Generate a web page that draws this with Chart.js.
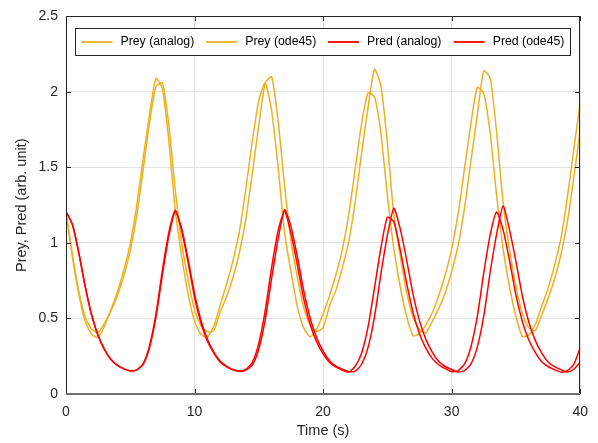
<!DOCTYPE html>
<html>
<head>
<meta charset="utf-8">
<script src="https://cdn.jsdelivr.net/npm/chart.js@4/dist/chart.umd.min.js"></script>
<style>
html,body{margin:0;padding:0;background:#fff;}
#wrap{width:598px;height:443px;}
</style>
</head>
<body>
<div id="wrap"><canvas id="c" width="598" height="443"></canvas></div>
<script>
// ---- data ----
const time = [0,0.5,1,1.5,2,2.5,3,3.5,4,4.5,5,5.5,6,6.5,7,7.5,8,8.5,9,9.5,10,10.5,11,11.5,12,12.5,13,13.5,14,14.5,15,15.5,16,16.5,17,17.5,18,18.5,19,19.5,20,20.5,21,21.5,22,22.5,23,23.5,24,24.5,25,25.5,26,26.5,27,27.5,28,28.5,29,29.5,30,30.5,31,31.5,32,32.5,33,33.5,34,34.5,35,35.5,36,36.5,37,37.5,38,38.5,39,39.5,40];

const preyAnalog = [
  1.20,0.92,0.679,0.509,0.428,0.407,0.469,0.55,0.652,0.784,
  0.951,1.181,1.485,1.798,2.036,2.06,1.778,1.351,1.0,0.756,
  0.56,0.451,0.412,0.42,0.545,0.645,0.775,0.94,1.165,1.465,
  1.78,2.06,2.10,1.81,1.38,1.015,0.77,0.57,0.455,0.413,
  0.44,0.581,0.689,0.835,1.012,1.273,1.597,1.90,2.15,2.039,
  1.66,1.188,0.915,0.674,0.506,0.427,0.406,0.482,0.567,0.671,
  0.811,0.983,1.23,1.544,1.852,2.14,2.09,1.729,1.265,0.955,
  0.712,0.532,0.438,0.42,0.52,0.634,0.76,0.922,1.138,1.432,
  1.75];

const preyOde45 = [
  1.21,0.91,0.66,0.48,0.394,0.376,0.45,0.56,0.676,0.82,
  0.994,1.246,1.556,1.852,2.09,2.02,1.676,1.216,0.912,0.66,
  0.482,0.394,0.376,0.45,0.59,0.73,0.886,1.084,1.364,1.678,
  1.944,2.06,1.872,1.504,1.068,0.81,0.578,0.436,0.379,0.43,
  0.53,0.652,0.79,0.958,1.192,1.492,1.794,1.994,1.966,1.724,
  1.312,0.964,0.71,0.514,0.385,0.40,0.46,0.54,0.652,0.79,
  0.958,1.192,1.492,1.794,2.03,1.99,1.724,1.312,0.964,0.71,
  0.514,0.38,0.39,0.46,0.58,0.70,0.85,1.03,1.30,1.62,
  1.93];

const predAnalog = [
  1.21,1.122,0.933,0.709,0.521,0.386,0.294,0.228,0.189,0.166,
  0.154,0.16,0.196,0.308,0.509,0.791,1.045,1.21,1.094,0.891,
  0.663,0.487,0.362,0.278,0.216,0.183,0.162,0.15,0.158,0.193,
  0.298,0.492,0.768,1.025,1.22,1.108,0.908,0.681,0.501,0.372,
  0.284,0.221,0.185,0.164,0.148,0.152,0.197,0.31,0.513,0.797,
  1.05,1.23,1.093,0.887,0.658,0.484,0.36,0.276,0.215,0.182,
  0.162,0.145,0.155,0.198,0.314,0.518,0.808,1.06,1.245,1.087,
  0.878,0.649,0.477,0.355,0.273,0.212,0.181,0.161,0.145,0.164,
  0.21];

const predOde45 = [
  1.21,1.122,0.933,0.709,0.521,0.386,0.294,0.228,0.189,0.166,
  0.152,0.16,0.20,0.32,0.53,0.82,1.07,1.216,1.08,0.87,
  0.64,0.47,0.35,0.27,0.21,0.18,0.16,0.15,0.163,0.21,
  0.337,0.553,0.84,1.082,1.21,1.063,0.852,0.626,0.46,0.344,
  0.265,0.208,0.178,0.158,0.145,0.184,0.272,0.446,0.704,0.97,
  1.17,1.14,0.954,0.732,0.538,0.398,0.302,0.234,0.192,0.168,
  0.148,0.155,0.198,0.313,0.517,0.803,1.055,1.205,1.088,0.883,
  0.654,0.48,0.357,0.275,0.214,0.182,0.161,0.145,0.155,0.196,
  0.308];

const seriesLabels = ['Prey (analog)','Prey (ode45)','Pred (analog)','Pred (ode45)'];
const xTickValues = [0,10,20,30,40];
const yTickValues = [0,0.5,1,1.5,2,2.5];
const xAxisTitle = 'Time (s)';
const yAxisTitle = 'Prey, Pred (arb. unit)';

// ---- styling ----
const FONT = "'Liberation Sans', Arial, Helvetica, sans-serif";
const PREY_COLOR = '#EDB120';
const PRED_COLOR = '#FF0000';
const AXIS_COLOR = '#262626';

const toXY = arr => time.map((t,i)=>({x:t, y:arr[i]}));

const framePlugin = {
  id:'frameAndLegend',
  afterDraw(chart){
    const ctx = chart.ctx;
    const ca = chart.chartArea;
    const xs = chart.scales.x, ys = chart.scales.y;
    const L = Math.round(ca.left), R = Math.round(ca.right), T = Math.round(ca.top), B = Math.round(ca.bottom);
    ctx.save();
    // inward ticks
    ctx.strokeStyle = AXIS_COLOR;
    ctx.lineWidth = 1;
    ctx.beginPath();
    const TL = 5;
    xTickValues.forEach(v=>{
      const px = Math.round(xs.getPixelForValue(v)) + 0.5;
      ctx.moveTo(px, B); ctx.lineTo(px, B - TL);
      ctx.moveTo(px, T); ctx.lineTo(px, T + TL);
    });
    yTickValues.forEach(v=>{
      const py = Math.round(ys.getPixelForValue(v)) + 0.5;
      ctx.moveTo(L, py); ctx.lineTo(L + TL, py);
      ctx.moveTo(R, py); ctx.lineTo(R - TL, py);
    });
    ctx.stroke();
    // box: left, top, right dark
    ctx.beginPath();
    ctx.moveTo(L+0.5, B); ctx.lineTo(L+0.5, T+0.5); ctx.lineTo(R-0.5, T+0.5); ctx.lineTo(R-0.5, B);
    ctx.stroke();
    // bottom axis line (grey, thicker)
    ctx.strokeStyle = '#6e6e6e';
    ctx.lineWidth = 2;
    ctx.beginPath();
    ctx.moveTo(L, B); ctx.lineTo(R, B);
    ctx.stroke();

    // legend inside plot
    const bx = L + 9, by = T + 12;
    const bw = (R - 10) - bx, bh = 27;
    ctx.fillStyle = '#fff';
    ctx.fillRect(bx, by, bw, bh);
    ctx.strokeStyle = AXIS_COLOR;
    ctx.lineWidth = 1;
    ctx.strokeRect(bx+0.5, by+0.5, bw, bh);
    const starts = [0.013, 0.265, 0.511, 0.765];
    const cy = by + bh/2 + 0.5;
    ctx.font = '12.3px ' + FONT;
    ctx.textBaseline = 'middle';
    ctx.textAlign = 'left';
    chart.data.datasets.forEach((ds, i)=>{
      const x0 = bx + starts[i]*bw;
      ctx.strokeStyle = ds.borderColor;
      ctx.lineWidth = 1.8;
      ctx.beginPath();
      ctx.moveTo(x0, cy); ctx.lineTo(x0 + 31, cy);
      ctx.stroke();
      ctx.fillStyle = '#000';
      ctx.fillText(ds.label, x0 + 39, cy);
    });
    ctx.restore();
  }
};

new Chart(document.getElementById('c'), {
  type:'line',
  data:{
    datasets:[
      {label:seriesLabels[0], data:toXY(preyAnalog), borderColor:PREY_COLOR, order:2},
      {label:seriesLabels[1], data:toXY(preyOde45), borderColor:PREY_COLOR, order:2},
      {label:seriesLabels[2], data:toXY(predAnalog), borderColor:PRED_COLOR, order:1},
      {label:seriesLabels[3], data:toXY(predOde45), borderColor:PRED_COLOR, order:1}
    ]
  },
  options:{
    responsive:false,
    animation:false,
    devicePixelRatio:1,
    layout:{padding:{top:8, right:16, left:0, bottom:0}},
    plugins:{legend:{display:false}, tooltip:{enabled:false}},
    elements:{
      point:{radius:0},
      line:{borderWidth:1.5, tension:0.2, fill:false}
    },
    scales:{
      x:{
        type:'linear', min:0, max:40,
        afterFit(s){ s.height = 49; },
        afterBuildTicks(s){ s.ticks = xTickValues.map(v=>({value:v})); },
        ticks:{color:AXIS_COLOR, padding:10, maxRotation:0, font:{size:14, family:FONT}, callback:v=>String(v)},
        grid:{color:'#e3e3e3', drawTicks:false, lineWidth:1},
        border:{display:false},
        title:{display:true, text:xAxisTitle, color:AXIS_COLOR, font:{size:14.5, family:FONT}, padding:{top:0,bottom:3}}
      },
      y:{
        type:'linear', min:0, max:2.5,
        afterFit(s){ s.width = 66; },
        afterBuildTicks(s){ s.ticks = yTickValues.map(v=>({value:v})); },
        ticks:{color:AXIS_COLOR, padding:8, font:{size:14, family:FONT}, callback:v=>String(v)},
        grid:{color:'#e3e3e3', drawTicks:false, lineWidth:1},
        border:{display:false},
        title:{display:true, text:yAxisTitle, color:AXIS_COLOR, font:{size:14.5, family:FONT}, padding:{top:13,bottom:0}}
      }
    }
  },
  plugins:[framePlugin]
});
</script>
</body>
</html>
